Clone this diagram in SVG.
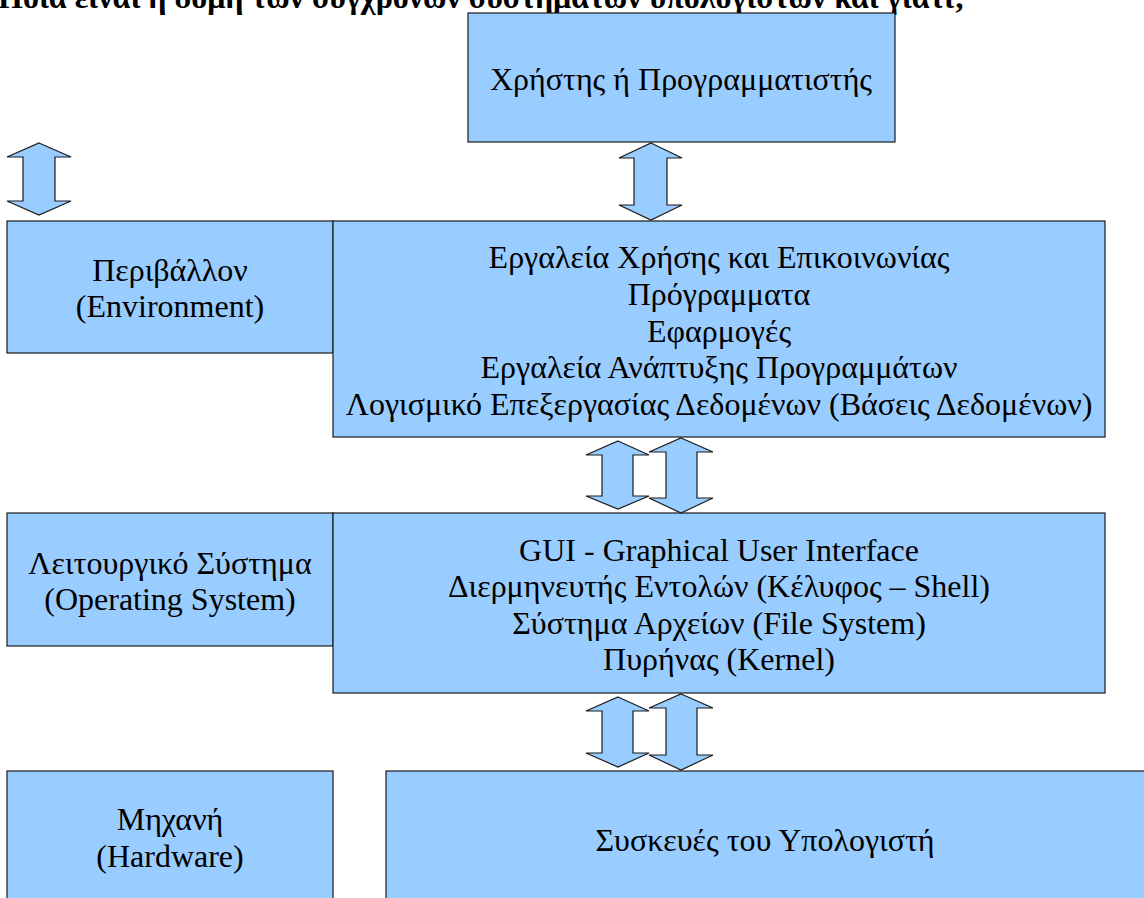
<svg xmlns="http://www.w3.org/2000/svg" width="1144" height="898" viewBox="0 0 1144 898">
<style>
.box{fill:#99ccff;stroke:#1a1a1a;stroke-width:1.2}
.arr{fill:#99ccff;stroke:#1a1a1a;stroke-width:1.2;stroke-linejoin:miter}
text{font-family:"Liberation Serif","Times New Roman","DejaVu Serif",serif;font-weight:normal;font-size:32px;fill:#000;text-anchor:middle}
.title{font-weight:bold;font-size:32px;text-anchor:start}
</style>
<rect width="1144" height="898" fill="#fff"/>
<text class="title" x="-2" y="8">Ποια είναι η δομή των σύγχρονων συστημάτων υπολογιστών και γιατί;</text>
<g id="user">
<rect class="box" x="468" y="13" width="427" height="129"/>
<text x="681" y="90">Χρήστης ή Προγραμματιστής</text>
</g>
<g id="environment">
<rect class="box" x="7" y="221" width="326" height="132"/>
<text x="170" y="281">Περιβάλλον</text>
<text x="170" y="317">(Environment)</text>
</g>
<g id="applications">
<rect class="box" x="333" y="221" width="772" height="216"/>
<text x="719" y="268">Εργαλεία Χρήσης και Επικοινωνίας</text>
<text x="719" y="305">Πρόγραμματα</text>
<text x="719" y="342">Εφαρμογές</text>
<text x="719" y="378">Εργαλεία Ανάπτυξης Προγραμμάτων</text>
<text x="719" y="415">Λογισμικό Επεξεργασίας Δεδομένων (Βάσεις Δεδομένων)</text>
</g>
<g id="os">
<rect class="box" x="7" y="513" width="326" height="133"/>
<text x="170" y="574">Λειτουργικό Σύστημα</text>
<text x="170" y="610">(Operating System)</text>
</g>
<g id="os-components">
<rect class="box" x="333" y="513" width="772" height="180"/>
<text x="719" y="561">GUI - Graphical User Interface</text>
<text x="719" y="597">Διερμηνευτής Εντολών (Κέλυφος – Shell)</text>
<text x="719" y="634">Σύστημα Αρχείων (File System)</text>
<text x="719" y="670">Πυρήνας (Kernel)</text>
</g>
<g id="hardware">
<rect class="box" x="7" y="771" width="326" height="140"/>
<text x="170" y="830">Μηχανή</text>
<text x="170" y="867">(Hardware)</text>
</g>
<g id="devices">
<rect class="box" x="386" y="771" width="770" height="140"/>
<text x="765" y="851">Συσκευές του Υπολογιστή</text>
</g>
<g id="connectors">
<path class="arr" d="M39,143 L71,157 L55,157 L55,201 L71,201 L39,215 L7,201 L23,201 L23,157 L7,157 Z"/>
<path class="arr" d="M651,143 L682,158 L667,158 L667,205 L682,205 L651,220 L619,205 L634,205 L634,158 L619,158 Z"/>
<path class="arr" d="M618,441 L649,455 L633,455 L633,496 L649,496 L618,509 L586,496 L602,496 L602,455 L586,455 Z"/>
<path class="arr" d="M681,438 L713,452 L697,452 L697,498 L713,498 L681,513 L649,498 L666,498 L666,452 L649,452 Z"/>
<path class="arr" d="M618,697 L649,711 L633,711 L633,753 L649,753 L618,767 L586,753 L602,753 L602,711 L586,711 Z"/>
<path class="arr" d="M681,694 L713,708 L697,708 L697,755 L713,755 L681,770 L649,755 L666,755 L666,708 L649,708 Z"/>
</g>
</svg>
